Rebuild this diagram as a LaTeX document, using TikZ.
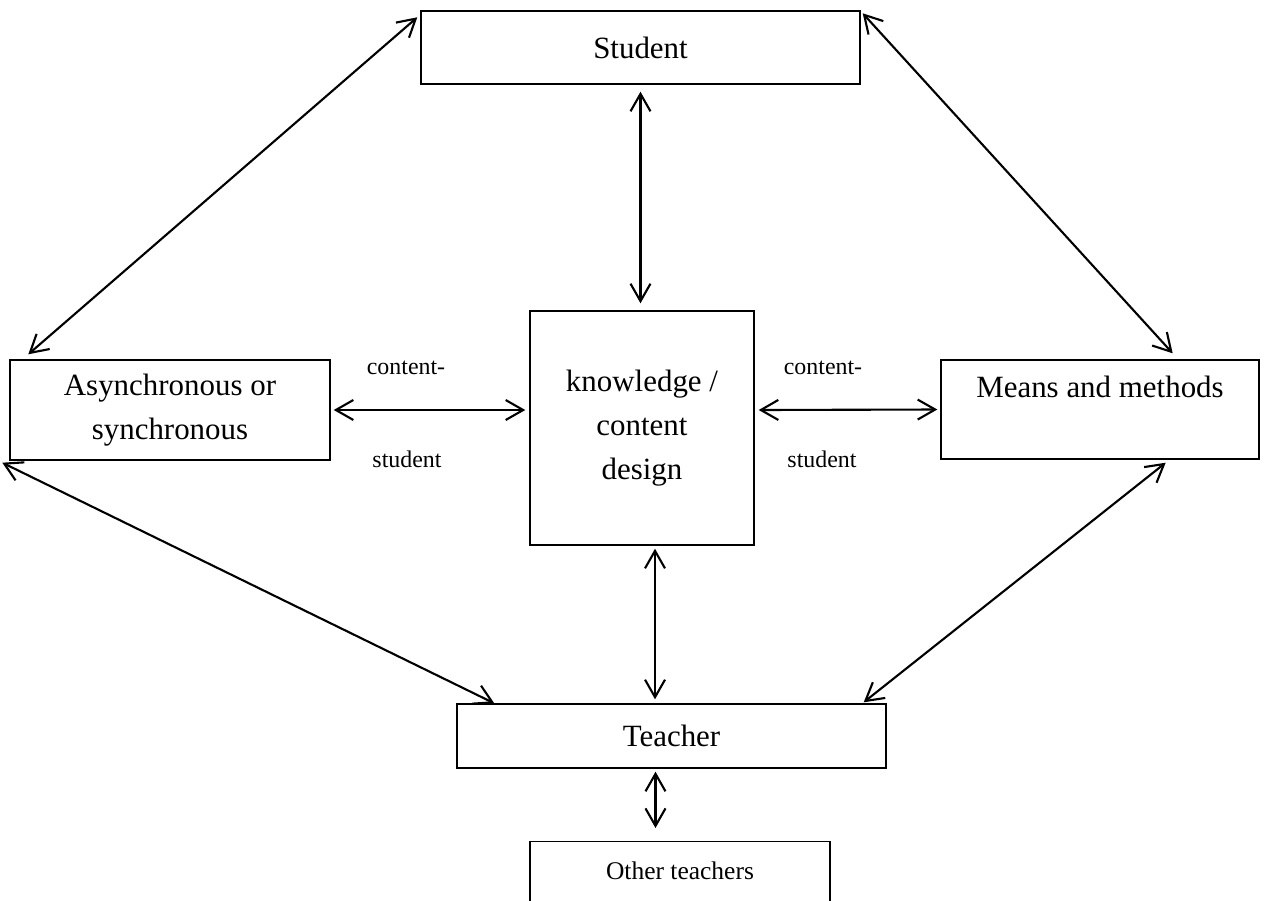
\documentclass[tikz,border=0pt]{standalone}
\usepackage{fontspec}
\setmainfont{Liberation Serif}
\usepackage{tikz}
\usetikzlibrary{positioning, arrows.meta, calc}

\begin{document}
\begin{tikzpicture}[
  >={Straight Barb[length=3.5mm, width=4mm]},
  every node/.style={font=\fontsize{17.6}{25}\selectfont},
  box/.style    = {draw, line width=0.8pt, align=center, inner sep=2pt},
  lbl/.style    = {font=\fontsize{13.6}{16}\selectfont, inner sep=1pt},
  dbl/.style    = {<->, line width=1.2pt},
]
  \useasboundingbox (0,0) rectangle (25.3,-18);
  \clip (0,0) rectangle (25.3,-18);
  % Boxes: student on top, three in the middle row, teachers below.
  \node[box, minimum width=8.78cm, minimum height=1.46cm] (student)   at (12.81,-0.95) {Student};
  \node[box, minimum width=6.4cm,  minimum height=2cm]    (async)     at (3.4,-8.2)    {Asynchronous or\\synchronous};
  \node[box, minimum width=4.48cm, minimum height=4.68cm] (knowledge) at (12.84,-8.56) {knowledge /\\content\\design};
  \node[box, minimum width=6.36cm, minimum height=1.98cm, text depth=0.9cm] (means) at (22.0,-8.19) {Means and methods};
  \node[box, minimum width=8.58cm, minimum height=1.28cm] (teacher)   at (13.43,-14.72) {Teacher};
  \node[box, font=\fontsize{14.5}{17}\selectfont, anchor=north, minimum width=6cm,
        inner ysep=0.4cm, text depth=1cm] (others) at (13.6,-16.82) {Other teachers};
  % Labels of the two horizontal links.
  \node[lbl] (lcontent) at (8.12,-7.36)  {content-};
  \node[lbl] (lstudent) at (8.14,-9.18)  {student};
  \node[lbl] (rcontent) at (16.46,-7.36) {content-};
  \node[lbl] (rstudent) at (16.44,-9.18) {student};
  % Links
  \draw[dbl] ([shift={(-0.06,-0.14)}]student.north west) -- ([shift={(0.38,0.1)}]async.north west);
  \draw[dbl] ([shift={(0.04,-0.06)}]student.north east) -- ([shift={(-1.74,0.12)}]means.north east);
  \draw[dbl] ([yshift=-0.14cm]student.south) -- ([yshift=0.14cm]student.south |- knowledge.north);
  \draw[dbl] ([xshift=0.06cm]async.east) -- ([xshift=-0.08cm]async.east -| knowledge.west);
  \draw[dbl] ([xshift=0.08cm]knowledge.east |- async.east) -- ([xshift=-0.06cm]means.west);
  \draw[dbl] ([shift={(-0.14,-0.04)}]async.south west) -- ([shift={(0.76,0)}]teacher.north west);
  \draw[dbl] ([shift={(0.26,-0.06)}]knowledge.south) -- ([shift={(0.26,0.08)}]knowledge.south |- teacher.north);
  \draw[dbl] ([shift={(-1.88,-0.06)}]means.south east) -- ([shift={(-0.46,0.02)}]teacher.north east);
  \draw[dbl] ([shift={(-0.32,-0.06)}]teacher.south) -- ([shift={(-0.32,0.26)}]teacher.south |- others.north);
\end{tikzpicture}
\end{document}
